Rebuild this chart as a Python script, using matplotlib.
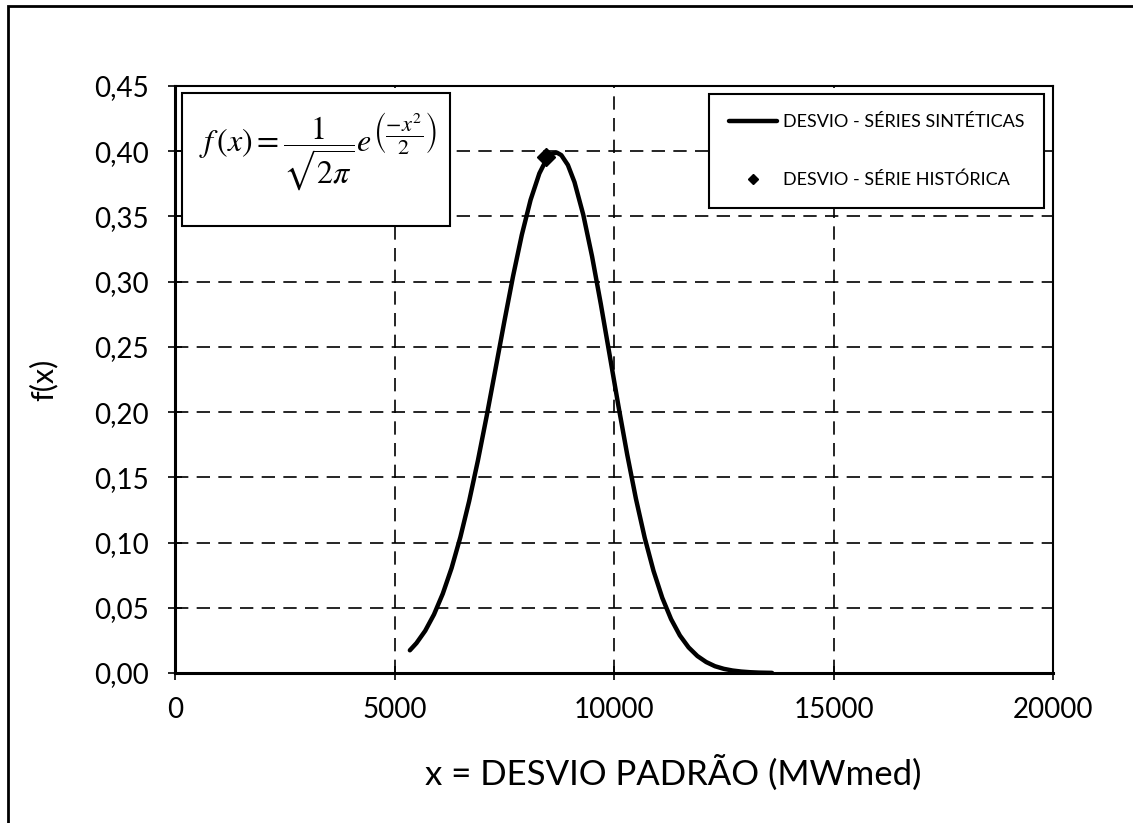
import matplotlib
matplotlib.use('Agg')
import matplotlib.pyplot as plt
from matplotlib.patches import Rectangle
from matplotlib.ticker import FuncFormatter

plt.rcParams['font.family'] = ['Lato', 'DejaVu Sans']
plt.rcParams['mathtext.fontset'] = 'stix'

# curva das séries sintéticas (desvio padrão x densidade)
desvio_sint = [5350, 5500, 5700, 5900, 6100, 6300, 6500, 6700, 6900, 7100,
               7300, 7500, 7700, 7900, 8100, 8300, 8450, 8600, 8700, 8800,
               8950, 9100, 9300, 9500, 9700, 9900, 10100, 10300, 10500, 10700,
               10900, 11100, 11300, 11500, 11700, 11900, 12100, 12300, 12500, 12700,
               12900, 13100, 13300, 13600]
fx_sint = [0.0174, 0.0229, 0.0324, 0.0449, 0.0608, 0.0804, 0.1041, 0.1317, 0.1629, 0.1970,
           0.2329, 0.2691, 0.3041, 0.3359, 0.3627, 0.3830, 0.3930, 0.3982, 0.3989, 0.3970,
           0.3894, 0.3763, 0.3513, 0.3194, 0.2828, 0.2439, 0.2049, 0.1676, 0.1335, 0.1036,
           0.0783, 0.0576, 0.0413, 0.0288, 0.0196, 0.0130, 0.0084, 0.0052, 0.0032, 0.0019,
           0.0011, 0.0006, 0.0003, 0.0001]

# série histórica
desvio_hist = [8450]
fx_hist = [0.3957]

x_ticks = [0, 5000, 10000, 15000, 20000]
y_ticks = [0.00, 0.05, 0.10, 0.15, 0.20, 0.25, 0.30, 0.35, 0.40, 0.45]

W, H = 1133, 823
fig = plt.figure(figsize=(W / 100, H / 100), dpi=100)
ax = fig.add_axes([175 / W, 150 / H, 878 / W, 587 / H])

ax.plot(desvio_sint, fx_sint, color='black', lw=3.2, solid_capstyle='round',
        solid_joinstyle='round', label='DESVIO - SÉRIES SINTÉTICAS', zorder=3)
ax.plot(desvio_hist, fx_hist, ls='none', marker='D', color='black', ms=9,
        label='DESVIO - SÉRIE HISTÓRICA', zorder=4)

ax.set_xlim(0, 20000)
ax.set_ylim(0, 0.45)
ax.set_xticks(x_ticks)
ax.set_yticks(y_ticks)
ax.yaxis.set_major_formatter(FuncFormatter(lambda v, p: f'{v:.2f}'.replace('.', ',')))
ax.xaxis.set_major_formatter(FuncFormatter(lambda v, p: f'{v:.0f}'))

ax.grid(True, color='black', ls=(0, (8, 5)), lw=1.2)
ax.set_axisbelow(True)
ax.tick_params(direction='inout', length=10, width=1.2, labelsize=20, colors='black')
ax.tick_params(axis='x', pad=12)
ax.tick_params(axis='y', pad=14)

for side in ['left', 'bottom']:
    ax.spines[side].set_linewidth(2.2)
for side in ['top', 'right']:
    ax.spines[side].set_linewidth(1.5)

ax.set_xlabel('x = DESVIO PADRÃO (MWmed)', fontsize=25)
ax.xaxis.set_label_coords(0.567, -0.14)
ax.set_ylabel('f(x)', fontsize=22)
ax.yaxis.set_label_coords(-0.134, 0.5)

leg = ax.legend(loc='upper right', bbox_to_anchor=(0.990, 0.986), fontsize=13,
                frameon=True, fancybox=False, edgecolor='black', framealpha=1,
                handlelength=2.7, handletextpad=0.3, labelspacing=2.3,
                borderpad=1.1, borderaxespad=0, markerscale=0.6)
leg.get_frame().set_linewidth(1.5)

# caixa com a equação da normal padrão
box = Rectangle((0.008, 0.761), 0.305, 0.227, transform=ax.transAxes,
                facecolor='white', edgecolor='black', lw=1.5, zorder=5)
ax.add_patch(box)
ax.text(0.027, 0.888, r'$f\,(x) = \dfrac{1}{\sqrt{2\pi}}e^{\left(\dfrac{-x^2}{2}\right)}$',
        transform=ax.transAxes, fontsize=23, ha='left', va='center', zorder=6)

# moldura externa
fig.patches.append(Rectangle((8 / W, -0.05), 1.1, 1 - 6 / H + 0.05, transform=fig.transFigure,
                             fill=False, edgecolor='black', lw=2))

fig.savefig('out.png', dpi=100)
